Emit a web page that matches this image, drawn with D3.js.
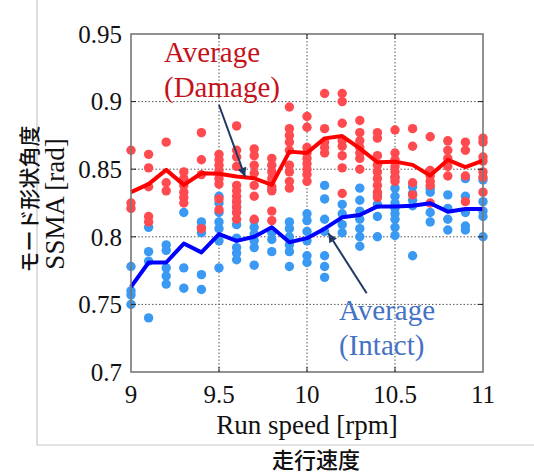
<!DOCTYPE html>
<html>
<head>
<meta charset="utf-8">
<script src="https://cdn.jsdelivr.net/npm/d3@7"></script>
<style>
  body { margin: 0; background: #fff; }
  svg { display: block; }
</style>
</head>
<body>
<div id="chart"></div>
<script>
// run speeds (x) and the measured values per speed
const speeds = [9, 9.1, 9.2, 9.3, 9.4, 9.5, 9.6, 9.7, 9.8, 9.9, 10, 10.1, 10.2, 10.3, 10.4, 10.5, 10.6, 10.7, 10.8, 10.9, 11];

const avgDamage = [0.833, 0.839, 0.8495, 0.8384, 0.847, 0.8466, 0.8446, 0.8433, 0.8384, 0.863, 0.862,
  0.8728, 0.8745, 0.8654, 0.8551, 0.8556, 0.8532, 0.8453, 0.8569, 0.8515, 0.8564];

const avgIntact = [0.763, 0.781, 0.781, 0.795, 0.7885, 0.802, 0.797, 0.800, 0.807, 0.796, 0.799,
  0.806, 0.8144, 0.8161, 0.8225, 0.8225, 0.823, 0.8248, 0.8186, 0.8205, 0.8205];

const damagePoints = [
  [0.864, 0.825, 0.821],
  [0.861, 0.851, 0.837, 0.815, 0.811],
  [0.870, 0.840, 0.834],
  [0.848, 0.843, 0.838, 0.833, 0.829, 0.825],
  [0.877, 0.857, 0.846, 0.806],
  [0.861, 0.857, 0.853, 0.849, 0.843, 0.839, 0.828, 0.820],
  [0.882, 0.864, 0.859, 0.852, 0.838, 0.834, 0.830, 0.826, 0.822, 0.818, 0.813],
  [0.865, 0.860, 0.853, 0.847, 0.838, 0.830, 0.813],
  [0.858, 0.853, 0.848, 0.843, 0.837, 0.834, 0.819, 0.812],
  [0.896, 0.880, 0.875, 0.870, 0.864, 0.853, 0.848, 0.841, 0.836],
  [0.889, 0.881, 0.866, 0.862, 0.858, 0.854, 0.850, 0.846, 0.841],
  [0.906, 0.880, 0.870, 0.866, 0.862],
  [0.906, 0.900, 0.884, 0.871, 0.867, 0.860, 0.851, 0.832],
  [0.886, 0.877, 0.871, 0.866, 0.862, 0.858, 0.850],
  [0.877, 0.873, 0.860, 0.853, 0.848, 0.843, 0.838, 0.833, 0.829],
  [0.879, 0.862, 0.857, 0.852, 0.848, 0.844, 0.841],
  [0.880, 0.867, 0.840, 0.831],
  [0.874, 0.849, 0.845, 0.841, 0.838, 0.825],
  [0.871, 0.864, 0.858, 0.852, 0.845],
  [0.870, 0.864, 0.845, 0.826],
  [0.873, 0.870, 0.859, 0.856, 0.848, 0.844, 0.833]
];

const intactPoints = [
  [0.778, 0.760, 0.757, 0.750],
  [0.807, 0.789, 0.782, 0.740],
  [0.794, 0.790, 0.777, 0.771, 0.765],
  [0.818, 0.777, 0.762],
  [0.811, 0.807, 0.803, 0.772, 0.761],
  [0.830, 0.825, 0.818, 0.811, 0.806, 0.797, 0.777],
  [0.826, 0.822, 0.818, 0.809, 0.799, 0.792, 0.788, 0.783],
  [0.812, 0.807, 0.802, 0.797, 0.792, 0.779],
  [0.835, 0.803, 0.798, 0.789],
  [0.811, 0.806, 0.800, 0.794, 0.789, 0.778],
  [0.817, 0.812, 0.804, 0.797, 0.786, 0.781],
  [0.838, 0.828, 0.813, 0.804, 0.786, 0.778, 0.770],
  [0.824, 0.817, 0.809, 0.803],
  [0.836, 0.827, 0.819, 0.813, 0.806, 0.800, 0.793],
  [0.831, 0.824, 0.815, 0.800],
  [0.844, 0.836, 0.830, 0.825, 0.821, 0.817, 0.813, 0.807, 0.801],
  [0.837, 0.832, 0.827, 0.823, 0.786],
  [0.836, 0.833, 0.818, 0.811],
  [0.831, 0.821, 0.813, 0.805],
  [0.843, 0.830, 0.818, 0.808, 0.805],
  [0.842, 0.826, 0.819, 0.815, 0.800]
];

const xTicks = [9, 9.5, 10, 10.5, 11];
const yTicks = [0.7, 0.75, 0.8, 0.85, 0.9, 0.95];

const W = 534, H = 475;
const margin = { top: 34, right: 51, bottom: 103, left: 131 };
const width = W - margin.left - margin.right;
const height = H - margin.top - margin.bottom;

const serif = "'Liberation Serif', 'Times New Roman', serif";
const cjk = "'Noto Sans CJK JP', 'Noto Sans', sans-serif";

const svg = d3.select("#chart").append("svg")
  .attr("width", W)
  .attr("height", H);

svg.append("rect").attr("width", W).attr("height", H).attr("fill", "#fff");

// outer figure frame (light gray, left + bottom)
svg.append("path")
  .attr("d", `M37,0 V445 H${W}`)
  .attr("fill", "none")
  .attr("stroke", "#c8c8c8")
  .attr("stroke-width", 1.2);

const g = svg.append("g").attr("transform", `translate(${margin.left},${margin.top})`);

const x = d3.scaleLinear().domain([9, 11]).range([0, width]);
const y = d3.scaleLinear().domain([0.7, 0.95]).range([height, 0]);

// grid
g.append("g")
  .selectAll("line")
  .data(xTicks.slice(1, -1))
  .join("line")
  .attr("x1", d => x(d)).attr("x2", d => x(d))
  .attr("y1", 0).attr("y2", height)
  .attr("stroke", "#555").attr("stroke-width", 1).attr("stroke-dasharray", "1.5,2");

g.append("g")
  .selectAll("line")
  .data(yTicks.slice(1, -1))
  .join("line")
  .attr("y1", d => y(d)).attr("y2", d => y(d))
  .attr("x1", 0).attr("x2", width)
  .attr("stroke", "#555").attr("stroke-width", 1).attr("stroke-dasharray", "1.5,2");

// scatter: intact first, damage on top
const r = 4.7;
intactPoints.forEach((vals, i) => {
  g.append("g").selectAll("circle")
    .data(vals)
    .join("circle")
    .attr("cx", x(speeds[i]))
    .attr("cy", d => y(d))
    .attr("r", r)
    .attr("fill", "#3a99f2");
});

damagePoints.forEach((vals, i) => {
  g.append("g").selectAll("circle")
    .data(vals)
    .join("circle")
    .attr("cx", x(speeds[i]))
    .attr("cy", d => y(d))
    .attr("r", r)
    .attr("fill", "#ff4a4f");
});

// average lines
const line = d3.line().x((d, i) => x(speeds[i])).y(d => y(d));

g.append("path")
  .datum(avgDamage)
  .attr("d", line)
  .attr("fill", "none")
  .attr("stroke", "#ff0000")
  .attr("stroke-width", 4)
  .attr("stroke-linejoin", "round");

g.append("path")
  .datum(avgIntact)
  .attr("d", line)
  .attr("fill", "none")
  .attr("stroke", "#0000ff")
  .attr("stroke-width", 4)
  .attr("stroke-linejoin", "round");

// axes box with inward ticks
const axisColor = "#777";
const tickLen = 5;
g.append("rect")
  .attr("width", width).attr("height", height)
  .attr("fill", "none").attr("stroke", axisColor).attr("stroke-width", 1.6);

xTicks.slice(1, -1).forEach(t => {
  g.append("line").attr("x1", x(t)).attr("x2", x(t)).attr("y1", height).attr("y2", height - tickLen)
    .attr("stroke", "#222").attr("stroke-width", 1);
  g.append("line").attr("x1", x(t)).attr("x2", x(t)).attr("y1", 0).attr("y2", tickLen)
    .attr("stroke", "#222").attr("stroke-width", 1);
});
yTicks.slice(1, -1).forEach(t => {
  g.append("line").attr("y1", y(t)).attr("y2", y(t)).attr("x1", 0).attr("x2", tickLen)
    .attr("stroke", "#222").attr("stroke-width", 1);
  g.append("line").attr("y1", y(t)).attr("y2", y(t)).attr("x1", width).attr("x2", width - tickLen)
    .attr("stroke", "#222").attr("stroke-width", 1);
});

// tick labels
g.append("g").selectAll("text")
  .data(yTicks)
  .join("text")
  .attr("x", -9)
  .attr("y", d => y(d))
  .attr("dy", "0.35em")
  .attr("text-anchor", "end")
  .style("font-family", serif)
  .style("font-size", "25px")
  .attr("fill", "#111")
  .text(d => d3.format("")(d));

g.append("g").selectAll("text")
  .data(xTicks)
  .join("text")
  .attr("x", d => x(d))
  .attr("y", height + 31)
  .attr("text-anchor", "middle")
  .style("font-family", serif)
  .style("font-size", "25px")
  .attr("fill", "#111")
  .text(d => d);

// axis titles
g.append("text")
  .attr("x", width / 2)
  .attr("y", height + 62)
  .attr("text-anchor", "middle")
  .style("font-family", serif)
  .style("font-size", "27px")
  .attr("fill", "#111")
  .text("Run speed [rpm]");

svg.append("text")
  .attr("x", 316)
  .attr("y", 468)
  .attr("text-anchor", "middle")
  .style("font-family", cjk)
  .style("font-size", "22px")
  .style("font-weight", "500")
  .attr("fill", "#111")
  .text("走行速度");

svg.append("text")
  .attr("transform", "translate(64,204) rotate(-90)")
  .attr("text-anchor", "middle")
  .style("font-family", serif)
  .style("font-size", "27px")
  .attr("fill", "#111")
  .text("SSMA [rad]");

svg.append("text")
  .attr("transform", "translate(37,199) rotate(-90)")
  .attr("text-anchor", "middle")
  .style("font-family", cjk)
  .style("font-size", "21px")
  .style("font-weight", "500")
  .attr("fill", "#111")
  .text("モード形状角度");

// annotations
const arrowColor = "#1f3864";
svg.append("defs").append("marker")
  .attr("id", "arrow")
  .attr("viewBox", "0 0 10 10")
  .attr("refX", 10).attr("refY", 5)
  .attr("markerWidth", 12).attr("markerHeight", 9)
  .attr("markerUnits", "userSpaceOnUse")
  .attr("orient", "auto")
  .append("path")
  .attr("d", "M0,0 L10,5 L0,10 z")
  .attr("fill", arrowColor);

const arrows = [
  { from: [9.5, 0.8975], to: [9.648, 0.8445] },
  { from: [10.339, 0.7582], to: [10.121, 0.8026] }
];
arrows.forEach(a => {
  g.append("line")
    .attr("x1", x(a.from[0])).attr("y1", y(a.from[1]))
    .attr("x2", x(a.to[0])).attr("y2", y(a.to[1]))
    .attr("stroke", arrowColor).attr("stroke-width", 2)
    .attr("marker-end", "url(#arrow)");
});

const labels = [
  { lines: ["Average", "(Damage)"], x: 9.1875, y: 0.9293, color: "#c4121a" },
  { lines: ["Average", "(Intact)"], x: 10.182, y: 0.7385, color: "#4472c4" }
];
labels.forEach(l => {
  l.lines.forEach((s, k) => {
    g.append("text")
      .attr("x", x(l.x))
      .attr("y", y(l.y) + k * 35)
      .style("font-family", serif)
      .style("font-size", "29px")
      .attr("fill", l.color)
      .text(s);
  });
});
</script>
</body>
</html>
